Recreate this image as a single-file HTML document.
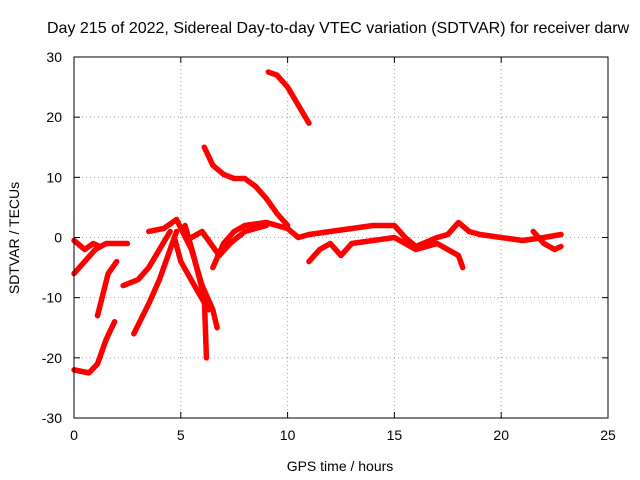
<!DOCTYPE html>
<html><head><meta charset="utf-8"><style>
body{margin:0;background:#fff}
svg{display:block;font-family:"Liberation Sans",sans-serif}
</style></head><body>
<svg id="chart" width="640" height="480" viewBox="0 0 640 480">
<text x="47" y="33" font-size="16" fill="#000">Day 215 of 2022, Sidereal Day-to-day VTEC variation (SDTVAR) for receiver darw</text>
<g id="grid"></g>
<g id="tracks"></g>
<rect x="74" y="57" width="534" height="361" fill="none" stroke="#000" stroke-width="1"/>
<g id="ticks"></g>
<text x="340" y="471" font-size="14" text-anchor="middle">GPS time / hours</text>
<text transform="translate(19,238) rotate(-90)" font-size="14" text-anchor="middle">SDTVAR / TECUs</text>
</svg>
<script>
const xTicks=[0,5,10,15,20,25];
const yTicks=[-30,-20,-10,0,10,20,30];
const track1=[[0,-22],[0.7,-22.5],[1.1,-21],[1.5,-17],[1.9,-14]];
const track2=[[0,-6],[0.5,-4],[1,-2],[1.5,-1],[2,-1],[2.5,-1]];
const track2b=[[0,-0.5],[0.5,-2],[0.9,-1],[1.2,-1.5]];
const track3=[[1.1,-13],[1.6,-6],[2,-4]];
const track4=[[2.3,-8],[3,-7],[3.5,-5],[4,-2],[4.5,1]];
const track5=[[2.8,-16],[3.5,-11],[4,-7],[4.5,-2],[4.8,1]];
const track6=[[3.5,1],[4.2,1.5],[4.8,3],[5.5,-2],[6,-8],[6.5,-12],[6.7,-15]];
const track7=[[5.2,2],[5.6,-3],[6.1,-10],[6.2,-20]];
const track8=[[6.1,15],[6.5,12],[7,10.5],[7.5,9.8],[8,9.8],[8.5,8.5],[9,6.5],[9.5,4],[10,2]];
const track9=[[9.1,27.5],[9.5,27],[10,25],[10.5,22],[11,19]];
const track10=[[6.5,-5],[7,-1],[7.5,1],[8,2],[9,2.5],[10,1.5],[10.5,0],[11,0.5],[12,1],[13,1.5],[14,2],[15,2],[15.5,0],[16,-1.5],[17,0],[17.5,0.5],[18,2.5],[18.5,1],[19,0.5],[20,0],[21,-0.5],[22,0],[22.8,0.5]];
const track11=[[11,-4],[11.5,-2],[12,-1],[12.5,-3],[13,-1],[14,-0.5],[15,0],[16,-2],[17,-1],[18,-3],[18.2,-5]];
const track12=[[21.5,1],[22,-1],[22.5,-2],[22.8,-1.5]];
const track13=[[4.7,0],[5,-4],[5.8,-9],[6.3,-12]];
const track14=[[5.5,0],[6,1],[6.8,-3],[7.3,-1],[8,1],[9,2]];
const tracks=[track1,track2,track2b,track3,track4,track5,track6,track7,track8,track9,track10,track11,track12,track13,track14];
const X0=74,X1=608,Y0=418,Y1=57;
const sx=v=>X0+(v-0)/25*(X1-X0);
const sy=v=>Y0-(v+30)/60*(Y0-Y1);
const NS="http://www.w3.org/2000/svg";
const grid=document.getElementById('grid'),ticks=document.getElementById('ticks'),tg=document.getElementById('tracks');
function mk(t,a,p){const e=document.createElementNS(NS,t);for(const k in a)e.setAttribute(k,a[k]);p.appendChild(e);return e;}
xTicks.forEach(v=>{
 if(v>0&&v<25){const g=mk('line',{x1:sx(v),x2:sx(v),y1:Y1,y2:Y0,stroke:'#a0a0a0','stroke-dasharray':'1,3'},grid);
 
 }
 const t=mk('text',{x:sx(v),y:Y0+22,'font-size':14,'text-anchor':'middle'},ticks);t.textContent=v;
 
 
 mk('line',{x1:sx(v),x2:sx(v),y1:Y0,y2:Y0-6,stroke:'#000'},ticks);
 mk('line',{x1:sx(v),x2:sx(v),y1:Y1,y2:Y1+6,stroke:'#000'},ticks);
});
yTicks.forEach(v=>{
 if(v>-30&&v<30){const g=mk('line',{x1:X0,x2:X1,y1:sy(v),y2:sy(v),stroke:'#a0a0a0','stroke-dasharray':'1,3'},grid);
 
 }
 const t=mk('text',{x:X0-12,y:sy(v)+5,'font-size':14,'text-anchor':'end'},ticks);t.textContent=v;
 
 
 mk('line',{x1:X0,x2:X0+6,y1:sy(v),y2:sy(v),stroke:'#000'},ticks);
 mk('line',{x1:X1,x2:X1-6,y1:sy(v),y2:sy(v),stroke:'#000'},ticks);
});
tracks.forEach(tr=>{
 const p=mk('polyline',{points:tr.map(d=>sx(d[0])+','+sy(d[1])).join(' '),fill:'none',stroke:'#f00','stroke-width':5.5,'stroke-linejoin':'round','stroke-linecap':'round'},tg);
 
 
});
</script>
</body></html>
